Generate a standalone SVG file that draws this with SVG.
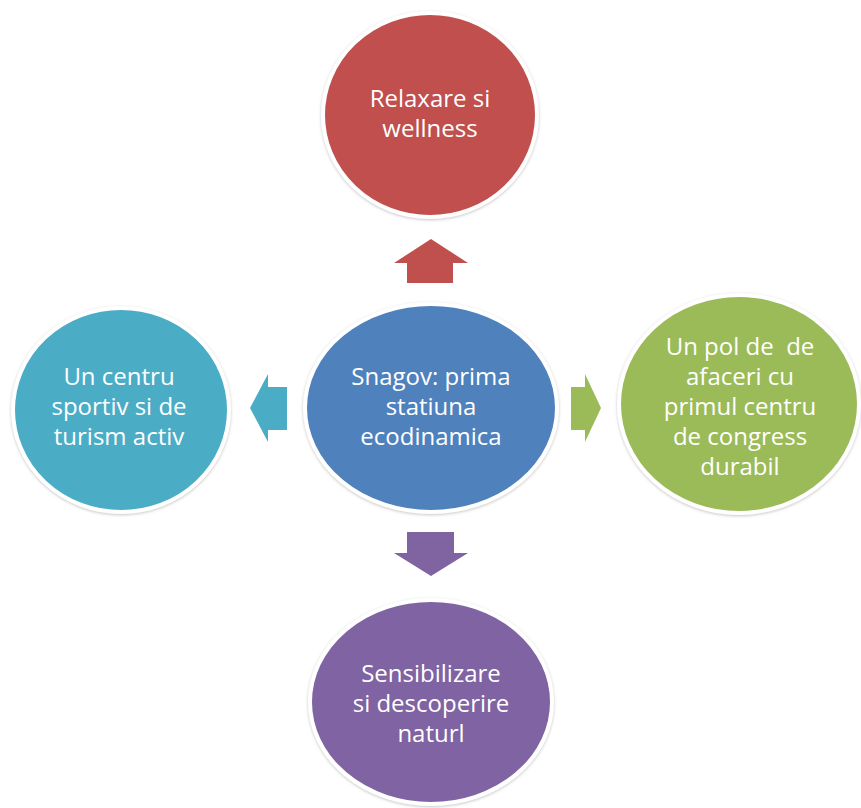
<svg xmlns="http://www.w3.org/2000/svg" width="861" height="808" viewBox="0 0 861 808">
<defs>
<filter id="sh" x="-10%" y="-10%" width="120%" height="120%">
<feDropShadow dx="0" dy="1" stdDeviation="1.5" flood-color="#808080" flood-opacity="0.45"/>
</filter>
</defs>
<style>
.c{stroke:#fff;stroke-width:4;filter:url(#sh)}
.t{font-family:"Open Sans","Noto Sans","Liberation Sans",sans-serif;font-size:24px;fill:#fff;text-anchor:middle}
</style>
<rect width="861" height="808" fill="#fff"/>
<g id="connectors">
<path d="M407,283 L407,263 L394,263 L431,239 L468,263 L453,263 L453,283 Z" fill="#C0504D"/>
<path d="M287,387 L268,387 L268,374 L250,408 L268,442 L268,430 L287,430 Z" fill="#4BACC6"/>
<path d="M571,387 L585,387 L585,374 L601,408 L585,442 L585,430 L571,430 Z" fill="#9BBB59"/>
<path d="M407,532 L454,532 L454,553 L468,553 L431,576 L394,553 L407,553 Z" fill="#8064A2"/>
</g>
<g id="node-top">
<ellipse class="c" cx="430" cy="115" rx="107" ry="102" fill="#C0504D"/>
<text class="t" x="430" y="107">Relaxare si</text>
<text class="t" x="430" y="137">wellness</text>
</g>
<g id="node-center">
<ellipse class="c" cx="431" cy="408" rx="126" ry="104" fill="#4F81BD"/>
<text class="t" x="431" y="385">Snagov: prima</text>
<text class="t" x="431" y="415">statiuna</text>
<text class="t" x="431" y="445">ecodinamica</text>
</g>
<g id="node-left">
<ellipse class="c" cx="121" cy="410" rx="108" ry="102" fill="#4BACC6"/>
<text class="t" x="119" y="385">Un centru</text>
<text class="t" x="119" y="415">sportiv si de</text>
<text class="t" x="119" y="445">turism activ</text>
</g>
<g id="node-right">
<ellipse class="c" cx="739" cy="404" rx="120" ry="109" fill="#9BBB59"/>
<text class="t" x="740" y="355" xml:space="preserve">Un pol de  de</text>
<text class="t" x="740" y="385">afaceri cu</text>
<text class="t" x="740" y="415">primul centru</text>
<text class="t" x="740" y="445">de congress</text>
<text class="t" x="740" y="475">durabil</text>
</g>
<g id="node-bottom">
<ellipse class="c" cx="431" cy="702" rx="121" ry="102" fill="#8064A2"/>
<text class="t" x="431" y="682">Sensibilizare</text>
<text class="t" x="431" y="712">si descoperire</text>
<text class="t" x="431" y="742">naturl</text>
</g>
</svg>
